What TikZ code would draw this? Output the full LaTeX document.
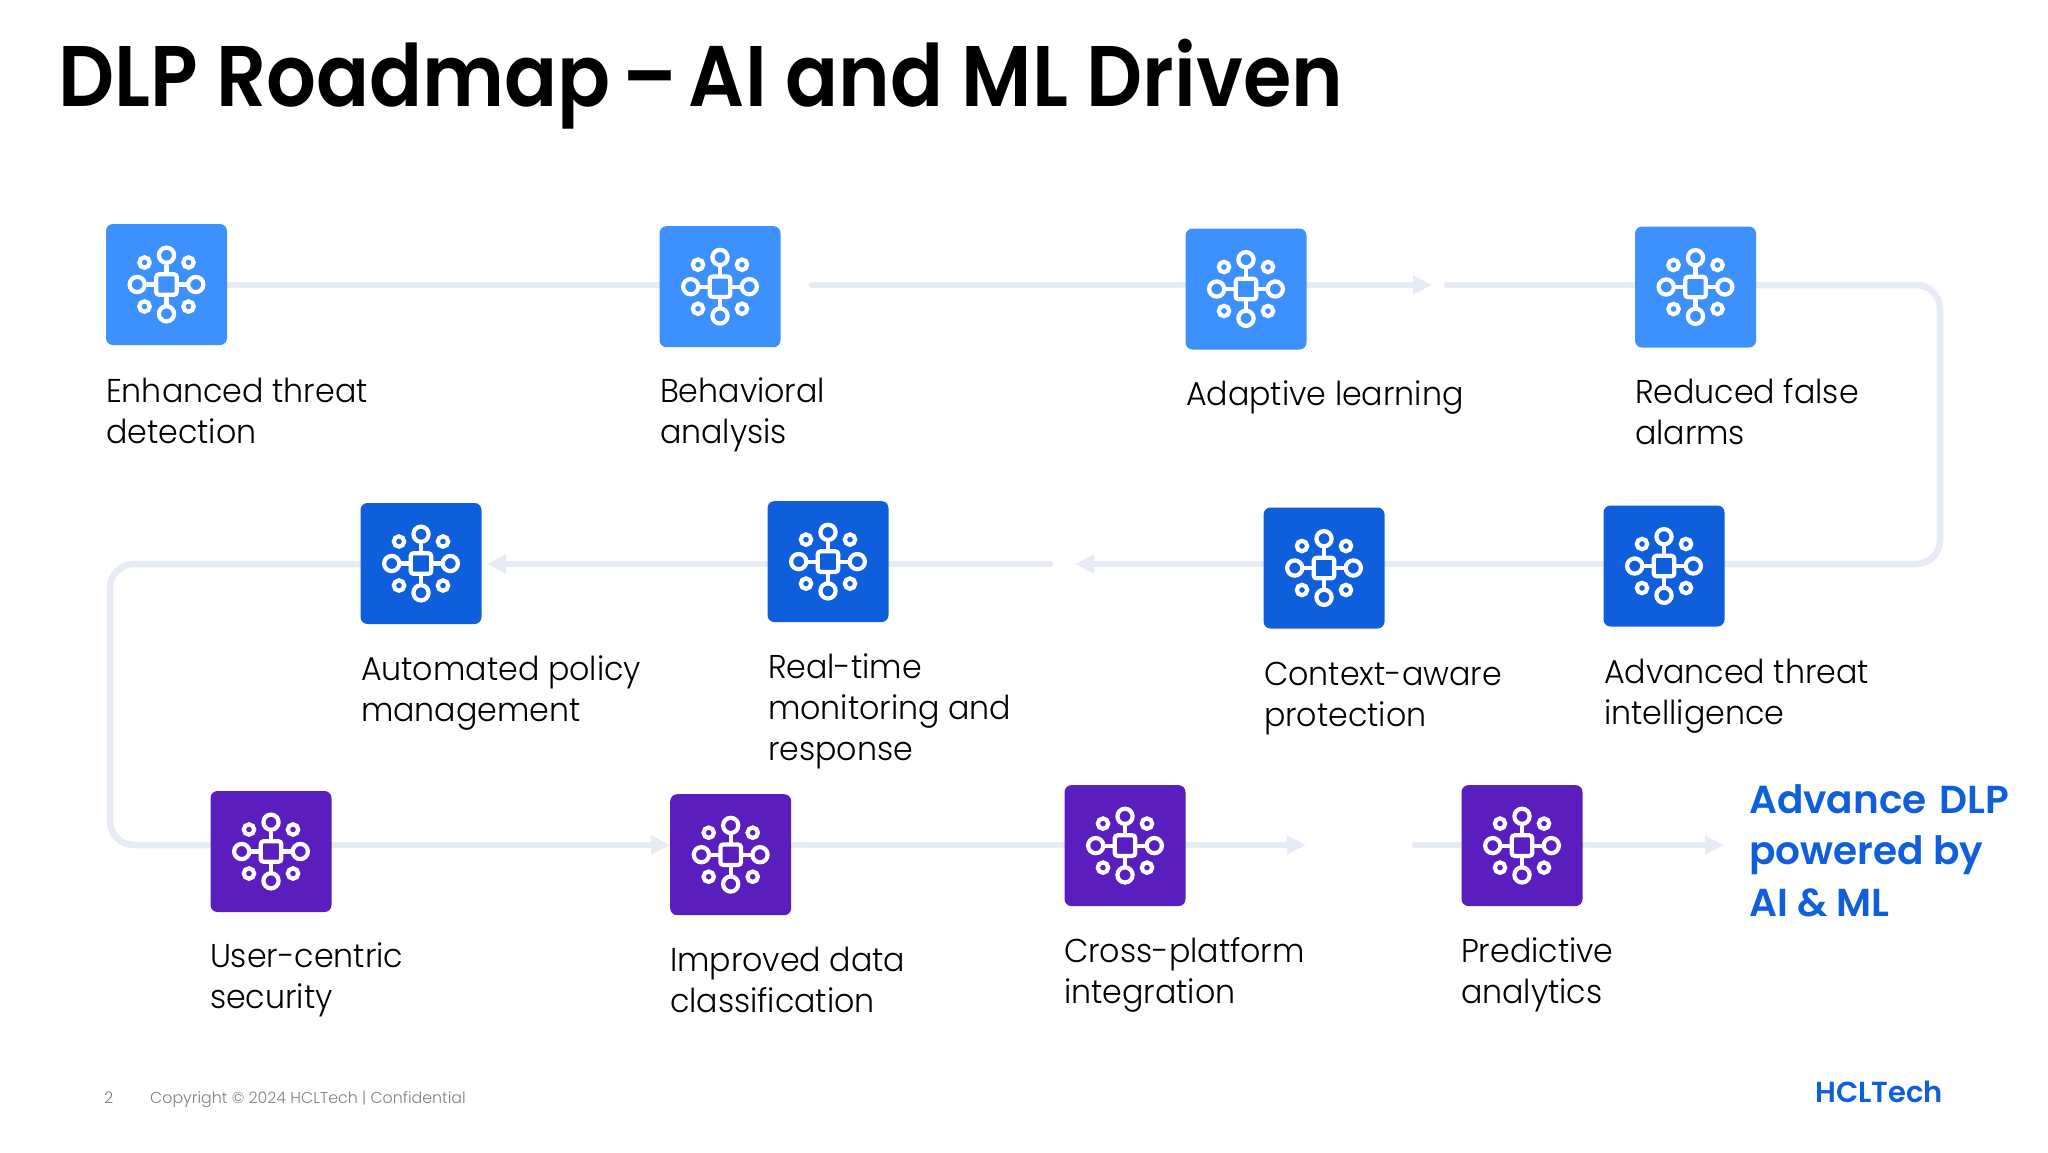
\documentclass[tikz,border=0pt]{standalone}
\usepackage{fontspec}
\setmainfont[FakeStretch=0.96]{Poppins Light}
\newfontfamily\titlefont[FakeStretch=0.91]{Poppins SemiBold}
\newfontfamily\headfont{Poppins SemiBold}
\newfontfamily\footfont{Poppins Light}
\usetikzlibrary{arrows.meta,backgrounds}
\definecolor{skytile}{HTML}{3D91FF}
\definecolor{bluetile}{HTML}{0F5FDC}
\definecolor{purptile}{HTML}{5A1EBE}
\definecolor{flowc}{HTML}{E6EBF5}
\definecolor{footc}{HTML}{7F7F7F}
\tikzset{
  x=1pt,y=-1pt,
  tile/.style={rectangle,rounded corners=7pt,minimum width=121pt,minimum height=121pt,inner sep=0pt,outer sep=0pt,fill=#1},
  flow/.style={draw=flowc,line width=6.5pt},
  flowfree/.style={flow,line cap=round},
  flowtip/.style={flow,-{Triangle[length=19pt,width=18pt,fill=flowc]}},
  lab/.style={anchor=base west,inner sep=0pt,outer sep=0pt,align=left,text=black,font=\fontsize{33}{41}\selectfont},
  ic/.style={draw=white,line width=4.2pt,fill=none},
}
\newcommand{\neticon}[1]{%
  \begin{scope}[shift={(#1)}]
    \draw[ic,rounded corners=3pt] (-10.3,-10.3) rectangle (10.3,10.3);
    \draw[ic] (-10.3,0) -- (-20,0) (10.3,0) -- (20,0) (0,-10.3) -- (0,-20) (0,10.3) -- (0,20);
    \foreach \a/\b in {-29.3/0,29.3/0,0/-29.3,0/29.3}{\draw[ic] (\a,\b) circle (7.6);}
    \foreach \a/\b in {-22/-22,22/-22,-22/22,22/22}{\draw[ic] (\a,\b) circle (5.2);}
  \end{scope}}
\begin{document}
\begin{tikzpicture}
\useasboundingbox (0,0) rectangle (2048,1152);
\node[anchor=base west,inner sep=0,font=\titlefont\fontsize{86}{90}\selectfont] (title) at (58,106) {DLP Roadmap\kern-7pt{} – \kern-7pt{}AI and ML Driven};
% tiles
\node[tile=skytile] (t1) at (166.5,284.5) {};
\node[tile=skytile] (t2) at (720,286.7) {};
\node[tile=skytile] (t3) at (1246,289) {};
\node[tile=skytile] (t4) at (1695.5,287) {};
\node[tile=bluetile] (t8) at (1664,566) {};
\node[tile=bluetile] (t7) at (1324,568) {};
\node[tile=bluetile] (t6) at (828,561.6) {};
\node[tile=bluetile] (t5) at (421,563.5) {};
\node[tile=purptile] (t9) at (271,851.5) {};
\node[tile=purptile] (t10) at (730.7,854.7) {};
\node[tile=purptile] (t11) at (1125,845.6) {};
\node[tile=purptile] (t12) at (1522,845.6) {};
\foreach \n in {t1,t2,t3,t4,t5,t6,t7,t8,t9,t10,t11,t12}{\neticon{\n.center}}
% free ends
\coordinate (r1) at (0,285);
\coordinate (r2) at (0,564);
\coordinate (r3) at (0,845);
\coordinate (a) at (812,285);
\coordinate (b) at (1432,285);
\coordinate (c) at (1447,285);
\coordinate (d) at (1940,285);
\coordinate (e) at (1940,564);
\coordinate (f) at (1075,564);
\coordinate (g) at (1050,564);
\coordinate (h) at (487,564);
\coordinate (i) at (110,564);
\coordinate (j) at (110,845);
\coordinate (k) at (1306,845);
\coordinate (l) at (1415,845);
\coordinate (m) at (1724,845);
\begin{scope}[on background layer]
\draw[flow] (t1.center |- r1) -- (t2.center |- r1);
\draw[flowfree] (a) -- (t3.center |- r1);
\draw[flowtip] (t3.center |- r1) -- (b);
\draw[flowfree] (c) -- (t4.center |- r1);
\draw[flow,rounded corners=24pt] (t4.center |- r1) -- (d) -- (e) -- (t8.center |- r2);
\draw[flow] (t8.center |- r2) -- (t7.center |- r2);
\draw[flowtip] (t7.center |- r2) -- (f);
\draw[flowfree] (g) -- (t6.center |- r2);
\draw[flowtip] (t6.center |- r2) -- (h);
\draw[flow,rounded corners=24pt] (t5.center |- r2) -- (i) -- (j) -- (t9.center |- r3);
\draw[flowtip] (t9.center |- r3) -- (t10.west |- r3);
\draw[flow] (t10.center |- r3) -- (t11.center |- r3);
\draw[flowtip] (t11.center |- r3) -- (k);
\draw[flowfree] (l) -- (t12.center |- r3);
\draw[flowtip] (t12.center |- r3) -- (m);
\end{scope}
% labels (anchored at the baseline of their last line)
\node[lab] (l1) at (106,443) {Enhanced threat\\detection};
\node[lab] (l2) at (660,443) {Behavioral\\analysis};
\node[lab] (l3) at (1186,405) {Adaptive learning};
\node[lab] (l4) at (1635,444) {Reduced false\\alarms};
\node[lab] (l5) at (361,721) {Automated policy\\management};
\node[lab] (l6) at (768,760) {Real-time\\monitoring and\\response};
\node[lab] (l7) at (1264,726) {Context-aware\\protection};
\node[lab] (l8) at (1604,724) {Advanced threat\\intelligence};
\node[lab] (l9) at (210,1008) {User-centric\\security};
\node[lab] (l10) at (670,1012) {Improved data\\classification};
\node[lab] (l11) at (1064,1003) {Cross-platform\\integration};
\node[lab] (l12) at (1461,1003) {Predictive\\analytics};
\node[anchor=base west,inner sep=0,align=left,text=bluetile,font=\headfont\fontsize{39}{51.5}\selectfont] (adv) at (1749,916) {Advance\kern4pt{} DLP\\powered by\\AI \& ML};
\node[anchor=base west,inner sep=0,text=footc,font=\footfont\fontsize{16}{18}\selectfont] (pg) at (104,1103) {2};
\node[anchor=base west,inner sep=0,text=footc,font=\footfont\fontsize{15.8}{18}\selectfont] (copy) at (150,1103) {Copyright © 2024 HCLTech | Confidential};
\node[anchor=base west,inner sep=0,text=bluetile,font=\headfont\fontsize{29}{30}\selectfont] (logo) at (1815,1102) {HCLTech};
\end{tikzpicture}
\end{document}
